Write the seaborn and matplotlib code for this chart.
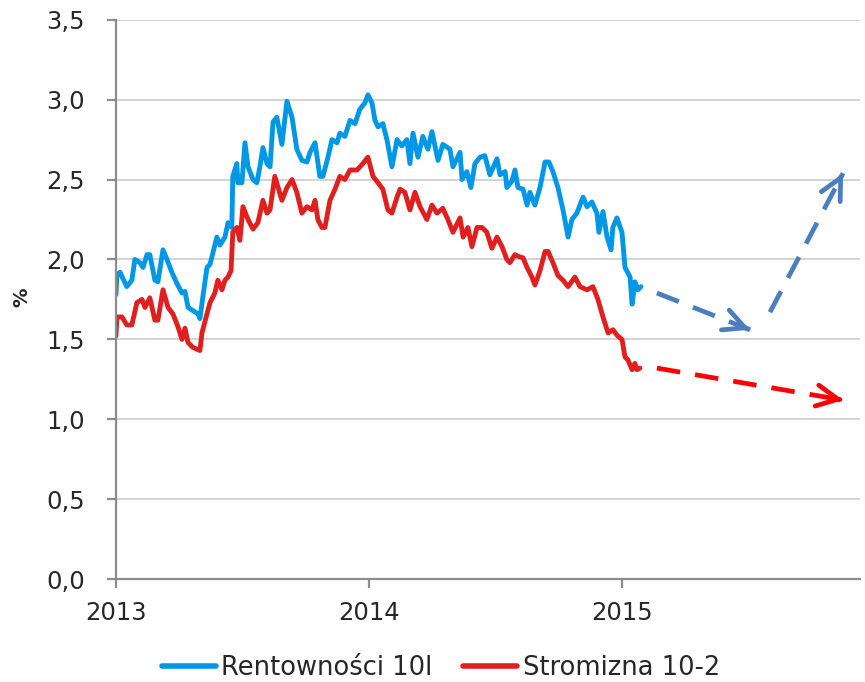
import pandas as pd
import matplotlib
matplotlib.use("Agg")
import matplotlib.pyplot as plt
import matplotlib.ticker as mticker
from matplotlib.lines import Line2D
import seaborn as sns

# ─── Data (decimal years, %) ────────────────────────────────────
yield_x = [2013.000, 2013.004, 2013.016, 2013.043, 2013.063, 2013.075, 2013.095, 2013.107,
           2013.123, 2013.134, 2013.154, 2013.166, 2013.186, 2013.202, 2013.221, 2013.241,
           2013.261, 2013.273, 2013.285, 2013.304, 2013.324, 2013.332, 2013.344, 2013.360,
           2013.372, 2013.383, 2013.399, 2013.411, 2013.431, 2013.443, 2013.458, 2013.462,
           2013.478, 2013.482, 2013.498, 2013.510, 2013.522, 2013.542, 2013.557, 2013.569,
           2013.581, 2013.597, 2013.609, 2013.621, 2013.636, 2013.656, 2013.676, 2013.696,
           2013.715, 2013.735, 2013.755, 2013.767, 2013.787, 2013.806, 2013.818, 2013.838,
           2013.854, 2013.874, 2013.885, 2013.905, 2013.925, 2013.945, 2013.964, 2013.984,
           2013.996, 2014.012, 2014.024, 2014.036, 2014.055, 2014.071, 2014.091, 2014.111,
           2014.130, 2014.150, 2014.162, 2014.174, 2014.194, 2014.213, 2014.233, 2014.249,
           2014.273, 2014.292, 2014.320, 2014.332, 2014.360, 2014.368, 2014.387, 2014.403,
           2014.419, 2014.439, 2014.458, 2014.478, 2014.506, 2014.518, 2014.538, 2014.545,
           2014.565, 2014.577, 2014.589, 2014.609, 2014.625, 2014.636, 2014.656, 2014.676,
           2014.696, 2014.711, 2014.727, 2014.747, 2014.767, 2014.787, 2014.802, 2014.822,
           2014.846, 2014.862, 2014.881, 2014.901, 2014.909, 2014.925, 2014.941, 2014.957,
           2014.964, 2014.980, 2015.000, 2015.012, 2015.032, 2015.040, 2015.051, 2015.063,
           2015.075]
yield_10y = [1.78, 1.90, 1.92, 1.83, 1.87, 2.00, 1.98, 1.95,
             2.03, 2.03, 1.87, 1.86, 2.06, 2.00, 1.92, 1.85,
             1.79, 1.80, 1.70, 1.68, 1.66, 1.63, 1.77, 1.95,
             1.97, 2.04, 2.14, 2.09, 2.14, 2.23, 2.20, 2.52,
             2.60, 2.48, 2.48, 2.73, 2.58, 2.50, 2.48, 2.58,
             2.70, 2.60, 2.58, 2.86, 2.89, 2.72, 2.99, 2.89,
             2.69, 2.62, 2.61, 2.67, 2.73, 2.52, 2.52, 2.64,
             2.75, 2.73, 2.79, 2.77, 2.87, 2.85, 2.94, 2.98,
             3.03, 2.98, 2.87, 2.83, 2.85, 2.75, 2.58, 2.75,
             2.71, 2.75, 2.60, 2.79, 2.64, 2.77, 2.69, 2.80,
             2.62, 2.72, 2.69, 2.58, 2.67, 2.50, 2.55, 2.45,
             2.60, 2.64, 2.65, 2.53, 2.63, 2.53, 2.55, 2.45,
             2.49, 2.56, 2.45, 2.44, 2.34, 2.42, 2.34, 2.45,
             2.61, 2.61, 2.55, 2.45, 2.31, 2.14, 2.25, 2.29,
             2.39, 2.33, 2.36, 2.29, 2.17, 2.30, 2.14, 2.06,
             2.20, 2.26, 2.17, 1.95, 1.89, 1.72, 1.86, 1.81,
             1.83]

slope_x = [2013.000, 2013.004, 2013.024, 2013.043, 2013.063, 2013.083, 2013.103, 2013.115,
           2013.134, 2013.154, 2013.166, 2013.186, 2013.206, 2013.225, 2013.245, 2013.261,
           2013.273, 2013.285, 2013.304, 2013.332, 2013.340, 2013.360, 2013.372, 2013.391,
           2013.403, 2013.419, 2013.431, 2013.443, 2013.455, 2013.462, 2013.478, 2013.490,
           2013.502, 2013.522, 2013.542, 2013.561, 2013.581, 2013.597, 2013.609, 2013.628,
           2013.656, 2013.676, 2013.696, 2013.715, 2013.735, 2013.755, 2013.775, 2013.787,
           2013.798, 2013.814, 2013.826, 2013.846, 2013.866, 2013.885, 2013.905, 2013.925,
           2013.953, 2013.976, 2013.996, 2014.016, 2014.036, 2014.055, 2014.075, 2014.091,
           2014.111, 2014.123, 2014.142, 2014.162, 2014.182, 2014.202, 2014.229, 2014.249,
           2014.269, 2014.292, 2014.312, 2014.332, 2014.360, 2014.372, 2014.391, 2014.407,
           2014.427, 2014.447, 2014.466, 2014.486, 2014.506, 2014.526, 2014.545, 2014.557,
           2014.577, 2014.589, 2014.609, 2014.625, 2014.644, 2014.656, 2014.676, 2014.696,
           2014.708, 2014.727, 2014.747, 2014.767, 2014.787, 2014.814, 2014.834, 2014.862,
           2014.885, 2014.905, 2014.925, 2014.945, 2014.964, 2014.984, 2015.000, 2015.012,
           2015.024, 2015.040, 2015.051, 2015.059, 2015.071]
slope_10_2 = [1.52, 1.64, 1.64, 1.59, 1.59, 1.73, 1.75, 1.70,
              1.76, 1.62, 1.62, 1.81, 1.70, 1.66, 1.58, 1.50,
              1.57, 1.48, 1.45, 1.43, 1.54, 1.66, 1.73, 1.79,
              1.87, 1.81, 1.87, 1.89, 1.93, 2.17, 2.20, 2.12,
              2.33, 2.25, 2.19, 2.23, 2.37, 2.29, 2.31, 2.52,
              2.37, 2.45, 2.50, 2.42, 2.29, 2.33, 2.31, 2.37,
              2.25, 2.20, 2.20, 2.37, 2.44, 2.52, 2.50, 2.56,
              2.56, 2.60, 2.64, 2.52, 2.48, 2.44, 2.31, 2.29,
              2.39, 2.44, 2.42, 2.31, 2.42, 2.33, 2.25, 2.34,
              2.29, 2.32, 2.25, 2.17, 2.26, 2.14, 2.20, 2.08,
              2.20, 2.20, 2.17, 2.07, 2.14, 2.08, 2.00, 1.98,
              2.03, 2.02, 2.01, 1.95, 1.89, 1.84, 1.93, 2.05,
              2.05, 1.98, 1.90, 1.87, 1.83, 1.89, 1.83, 1.81,
              1.83, 1.75, 1.64, 1.54, 1.56, 1.52, 1.50, 1.39,
              1.37, 1.31, 1.35, 1.31, 1.32]

# forecast arrows: (x_start, y_start, x_end, y_end)
arrow_yield_down = (2015.138, 1.79, 2015.506, 1.56)
arrow_yield_up = (2015.585, 1.67, 2015.874, 2.54)
arrow_slope = (2015.138, 1.32, 2015.874, 1.12)

year_ticks = [2013, 2014, 2015]
labels = ["Rentowności 10l", "Stromizna 10-2"]

BLUE = "#0097E6"
RED = "#E0201F"
ARROW_BLUE = "#4A7EBF"
ARROW_RED = "#FF0000"
GRID = "#D0D0D0"
SPINE = "#8C8C8C"

sns.set_style("white")
plt.rcParams.update({
    "font.family": ["DejaVu Sans"],
    "font.size": 17,
})

df = pd.concat([
    pd.DataFrame({"x": yield_x, "y": yield_10y, "series": labels[0]}),
    pd.DataFrame({"x": slope_x, "y": slope_10_2, "series": labels[1]}),
])

fig = plt.figure(figsize=(8.65, 6.82), dpi=100)
ax = fig.add_axes([0.134, 0.151, 0.860, 0.820])

sns.lineplot(data=df, x="x", y="y", hue="series", palette=[BLUE, RED],
             linewidth=3.5, legend=False, ax=ax, estimator=None, sort=False)


def dashed_arrow(seg, color):
    x0, y0, x1, y1 = seg
    ax.plot([x0, x1], [y0, y1], color=color, lw=3.4, dashes=(5, 3.2),
            solid_capstyle="butt", dash_capstyle="butt")
    bx = x1 - (x1 - x0) * 0.02
    by = y1 - (y1 - y0) * 0.02
    ax.annotate("", xy=(x1, y1), xytext=(bx, by),
                arrowprops=dict(arrowstyle="->,head_length=0.9,head_width=0.45",
                                color=color, lw=3.4, shrinkA=0, shrinkB=0))


dashed_arrow(arrow_yield_down, ARROW_BLUE)
dashed_arrow(arrow_yield_up, ARROW_BLUE)
dashed_arrow(arrow_slope, ARROW_RED)

ax.set_xlim(2013, 2015.94)
ax.set_ylim(0, 3.5)
ax.set_yticks([0, 0.5, 1.0, 1.5, 2.0, 2.5, 3.0, 3.5])
ax.yaxis.set_major_formatter(mticker.FuncFormatter(lambda v, _: f"{v:.1f}".replace(".", ",")))
ax.set_xticks(year_ticks)
ax.set_xticklabels([str(y) for y in year_ticks], fontsize=17.5)
ax.grid(axis="y", color=GRID, linewidth=1.3)
ax.grid(axis="x", visible=False)
ax.set_axisbelow(True)
for side in ["top", "right"]:
    ax.spines[side].set_visible(False)
for side in ["left", "bottom"]:
    ax.spines[side].set_color(SPINE)
    ax.spines[side].set_linewidth(1.6)
ax.tick_params(axis="both", which="major", length=6.5, width=1.6, color=SPINE,
               direction="out", left=True, bottom=True)
ax.tick_params(axis="x", pad=9)
ax.tick_params(axis="y", labelsize=17.5, pad=16)
ax.set_xlabel("")
ax.set_ylabel("")
fig.text(22 / 865, 1 - 297 / 682, "%", rotation=90, ha="center", va="center",
         fontsize=14, fontweight="bold")

handles = [Line2D([0], [0], color=BLUE, lw=4), Line2D([0], [0], color=RED, lw=4)]
fig.legend(handles, labels, loc="center", bbox_to_anchor=(441 / 865, 14 / 682),
           ncol=2, frameon=False, handlelength=2.1, handletextpad=0.2,
           columnspacing=1.2, fontsize=18.5, borderpad=0, borderaxespad=0)

fig.savefig("out.png", dpi=100)
